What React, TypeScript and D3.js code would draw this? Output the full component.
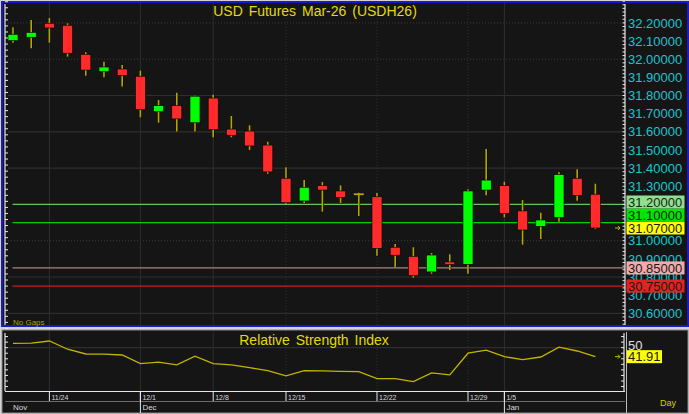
import React, { useMemo } from 'react';
import * as d3 from 'd3';

const WIDTH = 689;
const HEIGHT = 414;
const FONT = "'Liberation Sans', Arial, sans-serif";

// daily bars, USD futures Mar-26
const dates = [
  '11/20', '11/21', '11/24', '11/25', '11/26', '11/27', '11/28',
  '12/1', '12/2', '12/3', '12/4',
  '12/8', '12/9', '12/10', '12/11',
  '12/15', '12/16', '12/17', '12/18', '12/19',
  '12/22', '12/23', '12/24', '12/25', '12/26',
  '12/29', '12/30',
  '1/5', '1/6', '1/7', '1/8', '1/9', '1/12',
];
const opens = [
  32.102, 32.121, 32.198, 32.187, 32.027, 31.931, 31.946, 31.906, 31.711, 31.744, 31.650,
  31.786, 31.615, 31.604, 31.527, 31.344, 31.219, 31.303, 31.274, 31.256, 31.242, 30.964,
  30.914, 30.828, 30.883, 30.870, 31.279, 31.303, 31.164, 31.079, 31.129, 31.344, 31.256,
];
const highs = [
  32.176, 32.216, 32.227, 32.198, 32.038, 31.986, 31.968, 31.937, 31.775, 31.815, 31.800,
  31.804, 31.687, 31.636, 31.545, 31.404, 31.334, 31.323, 31.305, 31.264, 31.263, 30.982,
  30.964, 30.932, 30.925, 31.283, 31.505, 31.325, 31.224, 31.154, 31.377, 31.393, 31.314,
];
const lows = [
  32.091, 32.060, 32.091, 32.014, 31.909, 31.900, 31.849, 31.680, 31.650, 31.601, 31.601,
  31.570, 31.570, 31.500, 31.369, 31.202, 31.208, 31.160, 31.208, 31.136, 30.917, 30.855,
  30.796, 30.818, 30.839, 30.818, 31.250, 31.129, 30.978, 31.009, 31.105, 31.220, 31.064,
];
const closes = [
  32.137, 32.148, 32.172, 32.033, 31.940, 31.957, 31.911, 31.722, 31.744, 31.671, 31.796,
  31.612, 31.581, 31.522, 31.379, 31.209, 31.294, 31.279, 31.239, 31.256, 30.958, 30.920,
  30.807, 30.921, 30.868, 31.274, 31.334, 31.151, 31.059, 31.114, 31.364, 31.250, 31.070,
];
const rsi = [
  53.9, 54.1, 56.0, 48.6, 44.3, 44.1, 43.4, 35.6, 36.9, 34.5, 42.3,
  35.6, 34.5, 32.0, 29.3, 24.6, 29.3, 29.1, 28.6, 28.4, 22.1, 22.1,
  19.5, 27.3, 25.5, 45.0, 47.7, 41.9, 39.2, 41.6, 50.4, 47.0, 41.91,
];

const priceTicks = [32.2, 32.1, 32.0, 31.9, 31.8, 31.7, 31.6, 31.5, 31.4, 31.3, 31.2, 31.1, 31.0, 30.9, 30.8, 30.7, 30.6];
const gridSolid = [31.8, 31.6, 31.4, 30.8, 30.6];
const gridDotted = [32.2, 32.0, 31.0];
const weekTicks = ['11/24', '12/1', '12/8', '12/15', '12/22', '12/29', '1/5'];
const monthLabels = ['Nov', 'Dec', 'Jan'];
const monthStarts = ['11/20', '12/1', '1/5'];
const levelValues = [31.2, 31.1, 30.85, 30.75];
const levelLines = ['#66c266', '#00d400', '#a88484', '#c42020'];
const levelBoxes = ['#8ee08e', '#00e600', '#f4aaaa', '#e42222'];
const lastPrice = 31.07;
const rsiTicks = [15, 20, 25, 30, 35, 40, 45, 50, 55, 60];

const App = () => {
  const x = useMemo(() => d3.scaleLinear().domain([0, dates.length - 1]).range([13, 595.4]), []);
  const y = useMemo(() => d3.scaleLinear().domain([30.6, 32.2]).range([313.3, 22.9]), []);
  const yr = useMemo(() => d3.scaleLinear().domain([11, 65]).range([391, 331]), []);

  const rsiLine = d3.line<number>().x((_, i) => x(i)).y((d) => yr(d))(rsi) || '';

  // stack the level/last price boxes upward when they collide
  const boxes = useMemo(() => {
    const items = [
      ...levelValues.map((v, i) => ({ v, fill: levelBoxes[i], last: false })),
      { v: lastPrice, fill: '#ffff00', last: true },
    ].sort((a, b) => a.v - b.v);
    let prev = Infinity;
    return items.map((d) => {
      const cy = Math.min(y(d.v), prev - 13);
      prev = cy;
      return { ...d, cy };
    });
  }, [y]);

  // tick labels entirely hidden behind the boxes are not drawn
  const hidden = (ty: number) =>
    d3.range(ty - 4, ty + 4.01, 0.5).every((p) => boxes.some((b) => p >= b.cy - 6.6 && p <= b.cy + 6.6));

  const weekX = weekTicks.map((d) => x(dates.indexOf(d)));
  const leftTicks = d3.range(30.45, 32.35, 1 / 30);
  const rightTicks = d3.range(30.46, 32.33, 0.02);
  const lastRsi = rsi[rsi.length - 1];

  return (
    <svg width={WIDTH} height={HEIGHT} style={{ position: 'absolute', left: 0, top: 0, display: 'block' }}>
      <rect width={WIDTH} height={HEIGHT} fill="#d4d4d4" />

      {/* price pane */}
      <rect x={2} y={2} width={686} height={324} fill="#151515" stroke="#1a1ac8" strokeWidth={2} />
      {gridSolid.map((v) => (
        <line key={'gs' + v} x1={8} x2={624} y1={y(v)} y2={y(v)} stroke="#2e2e2e" strokeWidth={1.2} />
      ))}
      {gridDotted.map((v) => (
        <line key={'gd' + v} x1={8} x2={624} y1={y(v)} y2={y(v)} stroke="#3a3a3a" strokeDasharray="1,2" />
      ))}
      {weekX.map((wx, i) => (
        <line key={'vg' + i} x1={wx} x2={wx} y1={3} y2={325} stroke="#2e2e2e"
          strokeDasharray={i === 3 || i === 4 || i === 5 ? '1,2' : undefined} />
      ))}

      {levelValues.map((v, i) => (
        <line key={'lv' + v} x1={12.5} x2={625} y1={y(v)} y2={y(v)} stroke={levelLines[i]} strokeWidth={1.3} />
      ))}

      {dates.map((d, i) => {
        const o = opens[i];
        const c = closes[i];
        const cx = x(i);
        const up = c > o;
        const doji = Math.abs(c - o) < 0.001;
        const top = y(Math.max(o, c));
        const bot = y(Math.min(o, c));
        return (
          <g key={d}>
            <line x1={cx + 0.6} x2={cx + 0.6} y1={y(highs[i])} y2={y(lows[i])} stroke="#000" strokeWidth={1.5} />
            <line x1={cx} x2={cx} y1={y(highs[i])} y2={y(lows[i])} stroke="#b4a600" strokeWidth={1.6} />
            {doji ? (
              <line x1={cx - 5} x2={cx + 5} y1={top} y2={top} stroke="#b4a600" strokeWidth={1.8} />
            ) : (
              <rect x={cx - 5} y={top} width={10} height={Math.max(bot - top, 1)}
                fill={up ? '#00ff00' : '#ff2a2a'} stroke="#000" strokeWidth={0.6} />
            )}
          </g>
        );
      })}

      <text x={315} y={16} textAnchor="middle" fontFamily={FONT} fontSize={14} fill="#e4dc00" wordSpacing={2}>
        USD Futures Mar-26 (USDH26)
      </text>
      <text x={13} y={324.5} fontFamily={FONT} fontSize={8} fill="#a8a400">No Gaps</text>

      {/* left tick axis */}
      <line x1={5} x2={5} y1={4} y2={325} stroke="#e8e8e8" strokeWidth={1.2} />
      {leftTicks.map((v, i) => (
        <line key={'lt' + i} x1={5} x2={8} y1={y(v)} y2={y(v)} stroke="#e8e8e8" />
      ))}

      {/* price axis */}
      <line x1={625} x2={625} y1={4} y2={325} stroke="#e8e8e8" strokeWidth={1.2} />
      {rightTicks.map((v, i) => (
        <line key={'rt' + i} x1={622.5} x2={625} y1={y(v)} y2={y(v)} stroke="#e8e8e8" />
      ))}
      {priceTicks.filter((v) => !hidden(y(v))).map((v) => (
        <text key={'pt' + v} x={628} y={y(v)} dy="0.36em" fontFamily={FONT} fontSize={13} fill="#1cc4d0">
          {v.toFixed(5)}
        </text>
      ))}
      {boxes.map((b) => (
        <g key={'bx' + b.v}>
          <rect x={626.5} y={b.cy - 6.5} width={58} height={13} fill={b.fill} />
          <text x={628} y={b.cy} dy="0.36em" fontFamily={FONT} fontSize={13} fill="#1a1a1a">
            {b.v.toFixed(5)}
          </text>
        </g>
      ))}
      <path d={`M${615},${y(lastPrice)}h5M${618},${y(lastPrice) - 2}l2,2l-2,2`} stroke="#c8b800" fill="none" />

      {/* RSI pane */}
      <rect x={2} y={330} width={686} height={83} fill="#151515" stroke="#8a8a8a" strokeWidth={1} />
      <line x1={8} x2={624} y1={yr(50)} y2={yr(50)} stroke="#2e2e2e" strokeWidth={1.2} />
      {weekX.map((wx, i) => (
        <line key={'rvg' + i} x1={wx} x2={wx} y1={331} y2={391} stroke="#2e2e2e"
          strokeDasharray={i === 3 || i === 4 || i === 5 ? '1,2' : undefined} />
      ))}
      <text x={314} y={340} dy="0.36em" textAnchor="middle" fontFamily={FONT} fontSize={14} fill="#e4dc00" wordSpacing={2}>
        Relative Strength Index
      </text>
      <path d={rsiLine} fill="none" stroke="#c4b400" strokeWidth={1.3} />

      <line x1={5} x2={5} y1={333} y2={391} stroke="#e8e8e8" strokeWidth={1.2} />
      {rsiTicks.map((v) => (
        <line key={'rl' + v} x1={5} x2={8} y1={yr(v)} y2={yr(v)} stroke="#e8e8e8" />
      ))}
      <line x1={624} x2={624} y1={333} y2={391} stroke="#e8e8e8" strokeWidth={1.2} />
      {rsiTicks.map((v) => (
        <line key={'rr' + v} x1={621} x2={624} y1={yr(v)} y2={yr(v)} stroke="#e8e8e8" />
      ))}
      <line x1={626.5} x2={626.5} y1={332} y2={413} stroke="#bdbdbd" />
      <text x={628} y={yr(50) - 2} dy="0.36em" fontFamily={FONT} fontSize={13} fill="#e0e0e0">50</text>
      <rect x={627} y={yr(lastRsi) - 6.5} width={35} height={13} fill="#ffff00" />
      <text x={628} y={yr(lastRsi)} dy="0.36em" fontFamily={FONT} fontSize={13} fill="#1a1a1a">
        {lastRsi.toFixed(2)}
      </text>
      <path d={`M${615},${yr(lastRsi)}h5M${618},${yr(lastRsi) - 2}l2,2l-2,2`} stroke="#c8b800" fill="none" />

      {/* date axis */}
      <line x1={5} x2={625} y1={391.5} y2={391.5} stroke="#e8e8e8" strokeWidth={1.2} />
      <line x1={5} x2={625} y1={401.5} y2={401.5} stroke="#6a6a6a" />
      {weekTicks.map((d, i) => (
        <g key={'wt' + d}>
          <line x1={weekX[i]} x2={weekX[i]} y1={392} y2={401} stroke="#e8e8e8" />
          <text x={weekX[i] + 2} y={399.5} fontFamily={FONT} fontSize={7} fill="#d8d8d8">{d}</text>
        </g>
      ))}
      {monthLabels.map((m, i) => {
        const mx = x(dates.indexOf(monthStarts[i]));
        return (
          <g key={m}>
            {i > 0 && <line x1={mx} x2={mx} y1={392} y2={413} stroke="#e8e8e8" />}
            <text x={i === 0 ? 13 : mx + 2} y={410} fontFamily={FONT} fontSize={8} fill="#d8d8d8">{m}</text>
          </g>
        );
      })}
      <text x={660} y={406} fontFamily={FONT} fontSize={9} fill="#d4d000">Day</text>
    </svg>
  );
};

export default App;
